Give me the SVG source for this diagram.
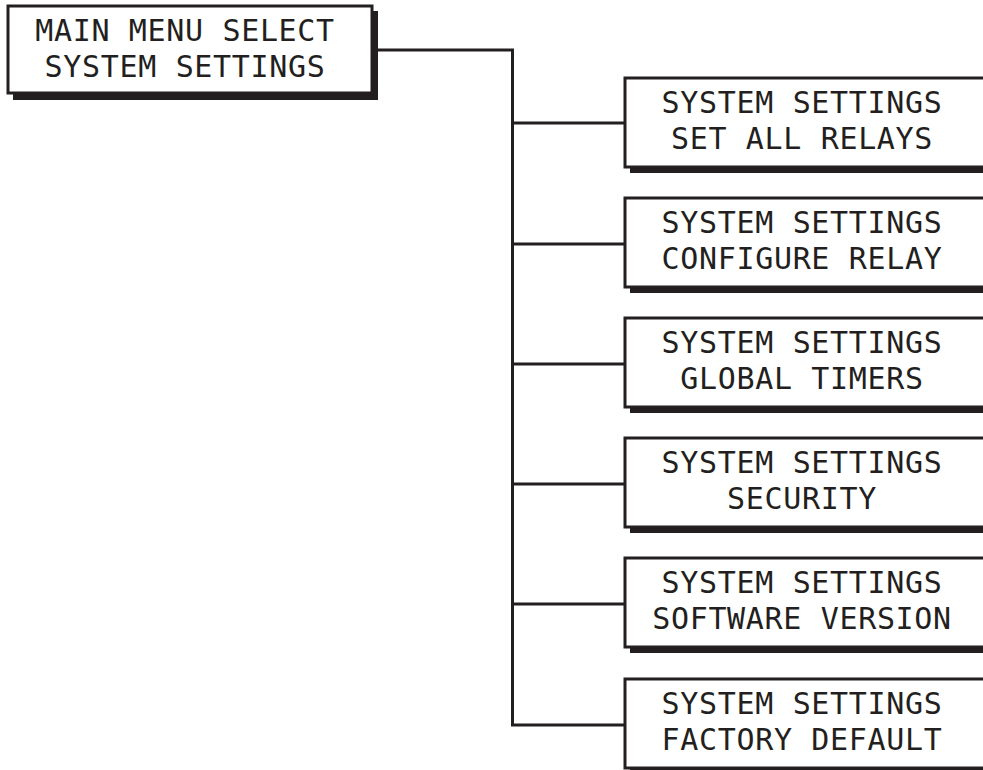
<svg xmlns="http://www.w3.org/2000/svg" width="983" height="770" viewBox="0 0 983 770">
<style>
.box{fill:#fff;stroke:#231f20;stroke-width:3}
.sh{fill:#231f20}
.t{font-family:"DejaVu Sans Mono","Liberation Mono",monospace;font-size:30px;letter-spacing:0.66px;fill:#231f20;text-anchor:middle}
.c{fill:none;stroke:#231f20;stroke-width:3}
</style>
<rect width="983" height="770" fill="#fff"/>
<g id="connectors">
<path class="c" d="M372 50H512.5V725H625"/>
<path class="c" d="M512.5 123H625M512.5 244H625M512.5 364H625M512.5 484H625M512.5 604H625"/>
</g>
<g id="main">
<rect class="sh" x="13" y="93" width="365" height="7"/>
<rect class="sh" x="372" y="11" width="6" height="89"/>
<rect class="box" x="8" y="6" width="364" height="87"/>
<text class="t" x="185" y="41">MAIN MENU SELECT</text>
<text class="t" x="185" y="77">SYSTEM SETTINGS</text>
</g>
<g id="n1">
<rect class="sh" x="630" y="167" width="360" height="6"/>
<rect class="box" x="625" y="78" width="400" height="89"/>
<text class="t" x="802" y="113">SYSTEM SETTINGS</text>
<text class="t" x="802" y="149">SET ALL RELAYS</text>
</g>
<g id="n2">
<rect class="sh" x="630" y="287" width="360" height="6"/>
<rect class="box" x="625" y="198" width="400" height="89"/>
<text class="t" x="802" y="233">SYSTEM SETTINGS</text>
<text class="t" x="802" y="269">CONFIGURE RELAY</text>
</g>
<g id="n3">
<rect class="sh" x="630" y="407" width="360" height="6"/>
<rect class="box" x="625" y="318" width="400" height="89"/>
<text class="t" x="802" y="353">SYSTEM SETTINGS</text>
<text class="t" x="802" y="389">GLOBAL TIMERS</text>
</g>
<g id="n4">
<rect class="sh" x="630" y="527" width="360" height="6"/>
<rect class="box" x="625" y="438" width="400" height="89"/>
<text class="t" x="802" y="473">SYSTEM SETTINGS</text>
<text class="t" x="802" y="509">SECURITY</text>
</g>
<g id="n5">
<rect class="sh" x="630" y="647" width="360" height="6"/>
<rect class="box" x="625" y="558" width="400" height="89"/>
<text class="t" x="802" y="593">SYSTEM SETTINGS</text>
<text class="t" x="802" y="629">SOFTWARE VERSION</text>
</g>
<g id="n6">
<rect class="sh" x="630" y="768" width="360" height="6"/>
<rect class="box" x="625" y="679" width="400" height="89"/>
<text class="t" x="802" y="714">SYSTEM SETTINGS</text>
<text class="t" x="802" y="750">FACTORY DEFAULT</text>
</g>
</svg>
